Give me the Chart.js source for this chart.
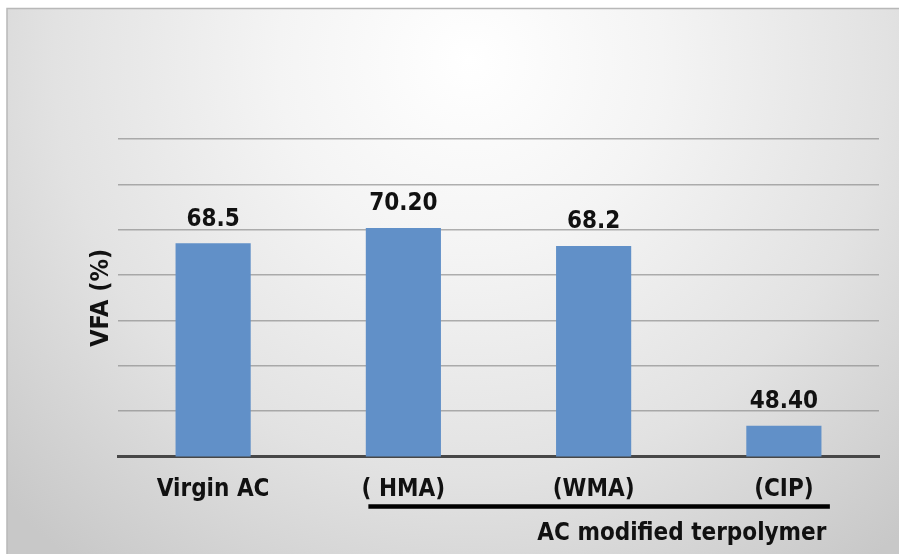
<!DOCTYPE html>
<html>
<head>
<meta charset="utf-8">
<script src="https://cdn.jsdelivr.net/npm/chart.js@4/dist/chart.umd.min.js"></script>
<style>
  html, body { margin: 0; padding: 0; background: #ffffff; }
  #wrap { width: 899px; height: 554px; }
</style>
</head>
<body>
<div id="wrap"><canvas id="vfa" width="899" height="554"></canvas></div>
<script>
// Mix categories and measured VFA values
const categories = ['Virgin AC', '( HMA)', '(WMA)', '(CIP)'];
const vfaValues = [68.5, 70.2, 68.2, 48.4];
const valueLabels = ['68.5', '70.20', '68.2', '48.40'];
const groupLabel = 'AC modified terpolymer';
const groupedCategories = ['( HMA)', '(CIP)'];
const axisTitle = 'VFA (%)';
const axisMin = 45;
const axisMax = 80;
const axisStep = 5;

const FONT = '"DejaVu Sans Condensed", "DejaVu Sans", sans-serif';

// Soft grey panel behind the chart
const panelBackground = {
  id: 'panelBackground',
  beforeDraw(chart) {
    const ctx = chart.ctx;
    const w = chart.width, h = chart.height;
    ctx.save();
    ctx.fillStyle = '#ffffff';
    ctx.fillRect(0, 0, w, h);
    const g = ctx.createRadialGradient(470, 60, 0, 470, 60, 640);
    g.addColorStop(0, '#ffffff');
    g.addColorStop(0.3, '#f4f4f4');
    g.addColorStop(0.65, '#e2e2e2');
    g.addColorStop(1, '#c8c8c8');
    ctx.fillStyle = g;
    ctx.fillRect(7, 8, w - 7, h - 8);
    ctx.strokeStyle = '#b8b8b8';
    ctx.lineWidth = 1.5;
    ctx.beginPath();
    ctx.moveTo(7, h);
    ctx.lineTo(7, 8.5);
    ctx.lineTo(w, 8.5);
    ctx.stroke();
    ctx.restore();
  }
};

// Value labels above bars, group underline and group caption
const annotations = {
  id: 'annotations',
  afterDatasetsDraw(chart) {
    const ctx = chart.ctx;
    const meta = chart.getDatasetMeta(0);
    ctx.save();
    ctx.fillStyle = '#111111';
    ctx.textAlign = 'center';
    ctx.textBaseline = 'middle';
    ctx.font = 'bold 24px ' + FONT;
    meta.data.forEach((bar, i) => {
      ctx.fillText(valueLabels[i], bar.x, bar.y - 24);
    });

    const xs = chart.scales.x;
    const first = xs.getPixelForValue(categories.indexOf(groupedCategories[0]));
    const last = xs.getPixelForValue(categories.indexOf(groupedCategories[1]));
    const x0 = first - 35;
    const x1 = last + 46;
    ctx.strokeStyle = '#000000';
    ctx.lineWidth = 4.5;
    ctx.beginPath();
    ctx.moveTo(x0, 506.5);
    ctx.lineTo(x1, 506.5);
    ctx.stroke();

    ctx.font = 'bold 24px ' + FONT;
    ctx.fillText(groupLabel, last - 102, 534);
    ctx.restore();
  }
};

new Chart(document.getElementById('vfa'), {
  type: 'bar',
  data: {
    labels: categories,
    datasets: [{
      data: vfaValues,
      backgroundColor: '#6190c8',
      borderWidth: 0,
      categoryPercentage: 1,
      barPercentage: 0.395
    }]
  },
  options: {
    responsive: false,
    animation: false,
    devicePixelRatio: 1,
    layout: { padding: { top: 139, right: 20, bottom: 0, left: 0 } },
    plugins: {
      legend: { display: false },
      tooltip: { enabled: false }
    },
    scales: {
      x: {
        grid: { display: false, drawTicks: false },
        border: { display: true, color: '#474747', width: 3 },
        ticks: {
          color: '#111111',
          padding: 19,
          font: { family: FONT, size: 24, weight: 'bold' }
        },
        afterFit(scale) { scale.height = 97.5; }
      },
      y: {
        min: axisMin,
        max: axisMax,
        grid: { color: 'rgba(135,135,135,0.65)', lineWidth: 1.5, drawTicks: false },
        border: { display: false },
        ticks: { display: false, stepSize: axisStep },
        title: {
          display: true,
          text: axisTitle,
          color: '#111111',
          padding: { top: 86, bottom: 0 },
          font: { family: FONT, size: 25, weight: 'bold' }
        },
        afterFit(scale) { scale.width = 118; }
      }
    }
  },
  plugins: [panelBackground, annotations]
});
</script>
</body>
</html>
